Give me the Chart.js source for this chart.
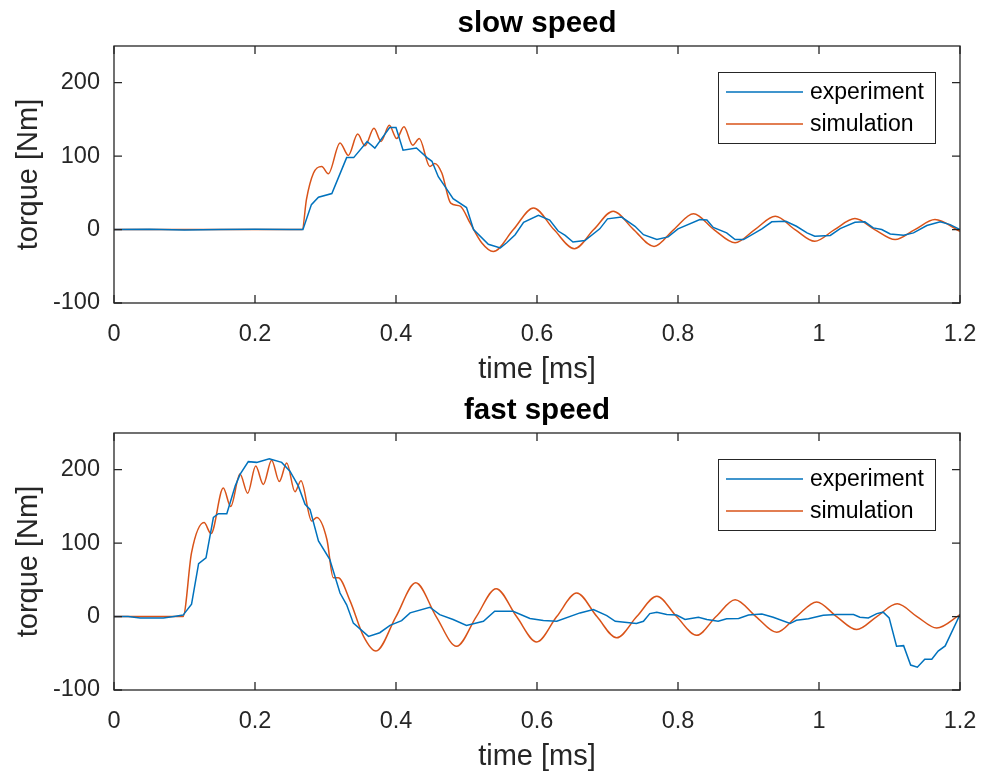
<!DOCTYPE html>
<html><head><meta charset="utf-8">
<script src="https://cdn.jsdelivr.net/npm/chart.js@4.4.1/dist/chart.umd.min.js"></script>
<style>
html,body{margin:0;padding:0;background:#fff;overflow:hidden;}
#wrap{position:relative;width:989px;height:773px;}
canvas{position:absolute;left:0;}
</style></head><body>
<div id="wrap">
<canvas id="c1" width="989" height="387" style="top:0"></canvas>
<canvas id="c2" width="989" height="387" style="top:387px"></canvas>
</div>
<script>
const seriesNames = ['experiment', 'simulation'];
const panelTitles = ['slow speed', 'fast speed'];
const xTicks = [0, 0.2, 0.4, 0.6, 0.8, 1, 1.2];
const xTickLabels = ['0', '0.2', '0.4', '0.6', '0.8', '1', '1.2'];
const yTicks = [-100, 0, 100, 200];
const yTickLabels = ['-100', '0', '100', '200'];

// slow speed - experiment
const slowExpT = [0,0.05,0.1,0.15,0.2,0.25,0.268,0.280,0.290,0.309,0.330,0.340,0.359,0.370,0.391,0.400,0.410,0.429,0.444,0.451,0.460,0.472,0.481,0.500,0.510,0.531,0.548,0.557,0.569,0.581,0.602,0.618,0.630,0.640,0.651,0.668,0.689,0.700,0.720,0.739,0.751,0.770,0.786,0.800,0.831,0.841,0.850,0.869,0.881,0.893,0.919,0.933,0.953,0.968,0.983,0.994,1.016,1.030,1.051,1.065,1.077,1.089,1.101,1.120,1.134,1.153,1.172,1.186,1.200];
const slowExpV = [0,0.5,-0.5,0,0.5,0,0,34,44,49,98,98,120,111,139,139,108,111,98,93,72,55,42,30,0,-20,-25,-18,-7,10,19.5,13,-2,-8,-17,-15,1,14.6,17,4.5,-7,-13.6,-10,1,13.6,13,3,-4.5,-13.6,-13.6,1,10.5,11.4,4.5,-4.5,-9,-8,1.4,10,10.5,2.3,0,-6,-7.7,-4.5,5.5,10.5,6.8,0];
// slow speed - simulation
const slowSimT = [0,0.1,0.2,0.267,0.273,0.283,0.2946,0.304,0.3206,0.3324,0.3456,0.356,0.3688,0.3787,0.3905,0.401,0.4113,0.4237,0.433,0.448,0.455,0.465,0.4776,0.491,0.505,0.5215,0.538,0.5665,0.595,0.624,0.653,0.6805,0.708,0.737,0.766,0.794,0.822,0.851,0.881,0.909,0.938,0.966,0.994,1.022,1.051,1.079,1.108,1.136,1.1645,1.2];
const slowSimV = [0,0,0,0,41,77,86,76,118,101,130,114,138,120,142,124,140,115,124,86,90,77,36,32,9,-18,-30,0,29.5,0,-26,0,25,0,-23,0,21.4,0,-18,0,18,0,-16,0,15,0,-13.6,0,13.6,-2.3];

// fast speed - experiment
const fastExpT = [0,0.02,0.037,0.07,0.085,0.098,0.110,0.120,0.1305,0.141,0.148,0.160,0.172,0.179,0.1905,0.2024,0.2203,0.2378,0.2496,0.2614,0.271,0.278,0.290,0.306,0.3206,0.330,0.3395,0.361,0.377,0.3915,0.408,0.420,0.448,0.462,0.481,0.500,0.524,0.540,0.566,0.590,0.609,0.628,0.661,0.680,0.699,0.711,0.741,0.751,0.760,0.770,0.784,0.798,0.810,0.829,0.841,0.857,0.869,0.886,0.900,0.919,0.935,0.959,0.968,0.985,1.006,1.025,1.049,1.058,1.070,1.082,1.091,1.0995,1.110,1.120,1.130,1.1395,1.150,1.160,1.169,1.179,1.200];
const fastExpV = [0,0,-2,-2,0,2,17,72,80,135,140,140,178,194,211,210,215,210,198,178,153,146,103,78,32,16,-9,-27,-22,-12,-5.5,5,12.7,2.7,-4,-12,-6.4,7.3,7.3,-2.7,-5.5,-6.4,5,9.5,1.4,-6.4,-9.5,-6.4,4,6,2.7,2,-4,-1,-4,-6.4,-3,-2.5,2,3.6,-1,-9.5,-5,-3,1.8,2.7,2.7,-1,-1.8,4,6,-1.8,-40.5,-39.6,-66,-69,-58,-58,-47,-40,2.7];
// fast speed - simulation
const fastSimT = [0,0.05,0.098,0.110,0.1277,0.1376,0.155,0.1655,0.1787,0.1896,0.201,0.2118,0.2236,0.2345,0.245,0.2567,0.2652,0.2804,0.2875,0.302,0.311,0.318,0.335,0.354,0.3716,0.400,0.428,0.457,0.486,0.514,0.542,0.571,0.5996,0.628,0.6563,0.685,0.713,0.7415,0.770,0.798,0.8265,0.854,0.881,0.9105,0.940,0.968,0.9967,1.025,1.0535,1.082,1.111,1.139,1.167,1.2];
const fastSimV = [0,0,0,87,128,113,175,150,194,168,205,180,213,184,209,170,185,130,135,105,53,53,21,-27,-47,0,46,0,-40.5,0,38,0,-34.6,0,32,0,-29,0,27.7,0,-25.5,0,23,0,-21.4,0,20,0,-17.7,0,17.3,0,-15.5,2.7];

const FONT = "'Liberation Sans', Arial, Helvetica, sans-serif";
const INK = '#262626';
const BLUE = '#0072BD';
const ORANGE = '#D95319';

const boxPlugin = {
  id: 'matlabBox',
  afterDatasetsDraw(chart) {
    const {ctx, chartArea: a, scales: {x, y}} = chart;
    ctx.save();
    // legend
    const lx0 = a.right - 242, lx1 = a.right - 25, ly0 = a.top + 26, ly1 = a.top + 97;
    ctx.fillStyle = '#fff';
    ctx.fillRect(lx0, ly0, lx1 - lx0, ly1 - ly0);
    ctx.strokeStyle = INK; ctx.lineWidth = 1;
    ctx.strokeRect(lx0 + 0.5, ly0 + 0.5, lx1 - lx0, ly1 - ly0);
    const rows = [ly0 + 20, ly0 + 52];
    chart.data.datasets.forEach((ds, i) => {
      ctx.strokeStyle = ds.borderColor; ctx.lineWidth = 1.5;
      ctx.beginPath(); ctx.moveTo(lx0 + 8, rows[i]); ctx.lineTo(lx0 + 85, rows[i]); ctx.stroke();
      ctx.fillStyle = '#000'; ctx.font = '23px ' + FONT; ctx.textBaseline = 'middle'; ctx.textAlign = 'left';
      ctx.fillText(ds.label, lx0 + 92, rows[i] + 1);
    });
    // box + inward ticks
    ctx.strokeStyle = INK; ctx.lineWidth = 1.3;
    ctx.strokeRect(a.left, a.top, a.right - a.left, a.bottom - a.top);
    const L = 8;
    ctx.beginPath();
    x.ticks.forEach(t => { const p = x.getPixelForValue(t.value);
      ctx.moveTo(p, a.bottom); ctx.lineTo(p, a.bottom - L); ctx.moveTo(p, a.top); ctx.lineTo(p, a.top + L); });
    y.ticks.forEach(t => { const p = y.getPixelForValue(t.value);
      ctx.moveTo(a.left, p); ctx.lineTo(a.left + L, p); ctx.moveTo(a.right, p); ctx.lineTo(a.right - L, p); });
    ctx.stroke();
    ctx.restore();
  }
};

function pts(t, v) { return t.map((tt, i) => ({x: tt, y: v[i]})); }

function makeChart(id, title, tE, vE, tS, vS) {
  return new Chart(document.getElementById(id), {
    type: 'line',
    data: { datasets: [
      {label: seriesNames[0], data: pts(tE, vE), borderColor: BLUE, borderWidth: 1.5, pointRadius: 0, tension: 0, fill: false},
      {label: seriesNames[1], data: pts(tS, vS), borderColor: ORANGE, borderWidth: 1.5, pointRadius: 0, cubicInterpolationMode: 'monotone', fill: false}
    ]},
    options: {
      responsive: false, animation: false, events: [],
      layout: {padding: {left: 0, right: 29, top: 0, bottom: 0}},
      plugins: {
        legend: {display: false}, tooltip: {enabled: false},
        title: {display: true, fullSize: false, text: title, color: '#000', font: {family: FONT, size: 29.5, weight: 'bold'}, padding: {top: 6, bottom: 4.6}}
      },
      scales: {
        x: {type: 'linear', min: 0, max: 1.2,
          afterBuildTicks: s => { s.ticks = xTicks.map(v => ({value: v})); },
          ticks: {callback: (v, i) => xTickLabels[i], color: INK, font: {family: FONT, size: 23.5}, padding: 17, maxRotation: 0, autoSkip: false},
          grid: {display: false, drawTicks: false}, border: {display: false},
          title: {display: true, text: 'time [ms]', color: INK, font: {family: FONT, size: 29}, padding: {top: 0, bottom: 0}},
          afterFit: s => { s.height = 84; s.paddingLeft = 0; s.paddingRight = 0; }
        },
        y: {type: 'linear', min: -100, max: 250,
          afterBuildTicks: s => { s.ticks = yTicks.map(v => ({value: v})); },
          ticks: {callback: (v, i) => yTickLabels[i], color: INK, font: {family: FONT, size: 23.5}, padding: 14, autoSkip: false},
          grid: {display: false, drawTicks: false}, border: {display: false},
          title: {display: true, text: 'torque [Nm]', color: INK, font: {family: FONT, size: 29}, padding: {top: 11.5, bottom: 0}},
          afterFit: s => { s.width = 114; s.paddingTop = 0; s.paddingBottom = 0; }
        }
      }
    },
    plugins: [boxPlugin]
  });
}

makeChart('c1', panelTitles[0], slowExpT, slowExpV, slowSimT, slowSimV);
makeChart('c2', panelTitles[1], fastExpT, fastExpV, fastSimT, fastSimV);
</script>
</body></html>
